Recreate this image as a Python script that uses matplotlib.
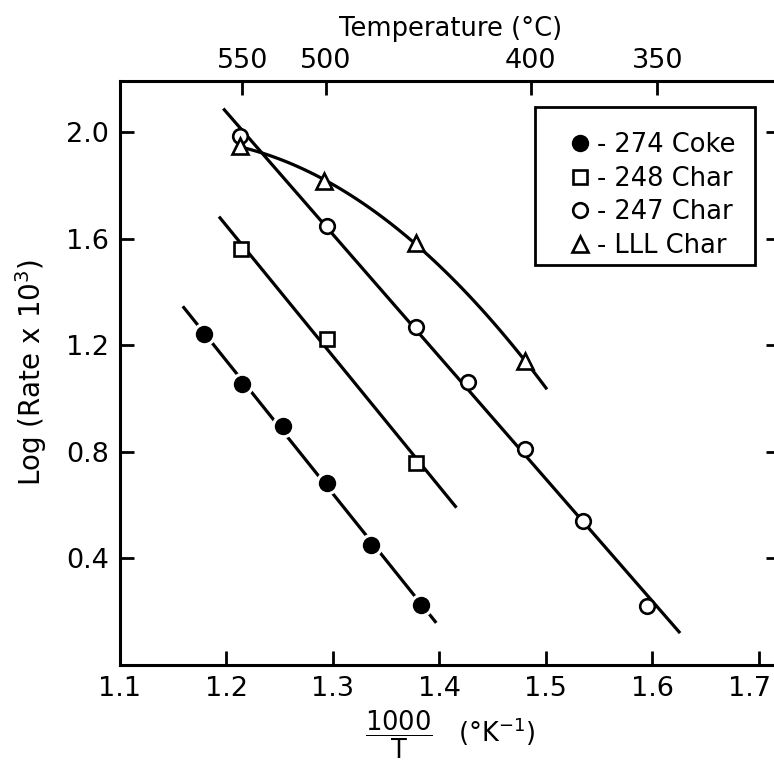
import numpy as np
import matplotlib
matplotlib.use("Agg")
import matplotlib.pyplot as plt
import matplotlib.transforms as mtransforms
from matplotlib.lines import Line2D
from matplotlib.patches import Rectangle

plt.rcParams["font.family"] = ["DejaVu Sans"]
plt.rcParams["mathtext.fontset"] = "dejavusans"

# Reciprocal temperature (1000/T, K^-1) against log rate for each sample
coke_x = [1.179, 1.215, 1.253, 1.294, 1.336, 1.383]
coke_y = [1.243, 1.055, 0.896, 0.685, 0.451, 0.226]

char248_x = [1.214, 1.294, 1.378]
char248_y = [1.563, 1.224, 0.760]

char247_x = [1.213, 1.294, 1.378, 1.427, 1.480, 1.535, 1.595]
char247_y = [1.986, 1.650, 1.268, 1.064, 0.812, 0.541, 0.222]

lll_x = [1.213, 1.2915, 1.378, 1.480]
lll_y = [1.948, 1.817, 1.585, 1.143]

# x-extent of each hand-fitted line
coke_span = [1.159, 1.397]
char248_span = [1.193, 1.416]
char247_span = [1.197, 1.626]
lll_span = [1.213, 1.501]

x_ticks = [1.1, 1.2, 1.3, 1.4, 1.5, 1.6, 1.7]
y_ticks = [0.4, 0.8, 1.2, 1.6, 2.0]
temp_ticks = [550, 500, 400, 350]

legend_labels = ["- 274 Coke", "- 248 Char", "- 247 Char", "- LLL Char"]


def to_celsius(x):
    x = np.asarray(x, dtype=float)
    with np.errstate(divide="ignore"):
        return 1000.0 / x - 273.15


def to_recip(t):
    t = np.asarray(t, dtype=float)
    with np.errstate(divide="ignore"):
        return 1000.0 / (t + 273.15)


def fit_line(xs, ys, span, deg):
    coef = np.polyfit(xs, ys, deg)
    xx = np.linspace(span[0], span[1], 100)
    return xx, np.polyval(coef, xx)


fig = plt.figure(figsize=(7.74, 7.67), dpi=100)
ax = fig.add_axes([0.155, 0.133, 0.853, 0.762])

lw = 2.3
for xs, ys, span, deg in [(coke_x, coke_y, coke_span, 1),
                          (char248_x, char248_y, char248_span, 1),
                          (char247_x, char247_y, char247_span, 1),
                          (lll_x, lll_y, lll_span, 2)]:
    xx, yy = fit_line(xs, ys, span, deg)
    ax.plot(xx, yy, color="black", lw=lw, solid_capstyle="butt", zorder=2)

# filled dots sit in a small white gap on their line
ax.plot(coke_x, coke_y, "o", ms=16, color="white", zorder=3)
ax.plot(coke_x, coke_y, "o", ms=11.5, color="black", zorder=4)

open_style = dict(linestyle="none", mfc="white", mec="black", mew=1.9, zorder=4)
ax.plot(char248_x, char248_y, marker="s", ms=10.5, **open_style)
ax.plot(char247_x, char247_y, marker="o", ms=10.5, **open_style)
ax.plot(lll_x, lll_y, marker="^", ms=12, **open_style)

ax.set_xlim(1.1, 1.72)
ax.set_ylim(0, 2.195)
ax.set_xticks(x_ticks)
ax.set_xticklabels([f"{v:.1f}" for v in x_ticks])
ax.set_yticks(y_ticks)
ax.set_yticklabels([f"{v:.1f}" for v in y_ticks])

for s in ax.spines.values():
    s.set_linewidth(2.2)
ax.tick_params(axis="both", direction="in", length=10, width=2, labelsize=19.5,
               pad=8, right=True)

# keep the last bottom label inside the canvas
last = ax.get_xticklabels()[-1]
last.set_transform(last.get_transform()
                   + mtransforms.ScaledTranslation(-9 / 100, 0, fig.dpi_scale_trans))

sec = ax.secondary_xaxis("top", functions=(to_celsius, to_recip))
sec.set_xticks(temp_ticks)
sec.set_xticklabels([str(t) for t in temp_ticks])
sec.tick_params(direction="in", length=10, width=2, labelsize=19.5, pad=5)
sec.set_xlabel("Temperature (°C)", fontsize=18.5, labelpad=8)

ax.set_xlabel(r"$\mathregular{\dfrac{1000}{T}}$   (°K$^{-1}$)", fontsize=18.5, labelpad=5)
ax.set_ylabel(r"Log (Rate x 10$^3$)", fontsize=20, labelpad=12)

# legend entries without their own frame; box drawn separately
handles = [
    Line2D([], [], marker="o", ms=11.5, color="black", linestyle="none"),
    Line2D([], [], marker="s", ms=10.5, mfc="white", mec="black", mew=1.9, linestyle="none"),
    Line2D([], [], marker="o", ms=10.5, mfc="white", mec="black", mew=1.9, linestyle="none"),
    Line2D([], [], marker="^", ms=12, mfc="white", mec="black", mew=1.9, linestyle="none"),
]
ax.legend(handles, legend_labels, loc="upper left", bbox_to_anchor=(0.682, 0.912),
          borderaxespad=0, borderpad=0, fontsize=18.5, handlelength=0.75,
          handletextpad=0.3, labelspacing=0.3, frameon=False)
ax.add_patch(Rectangle((0.6286, 0.6843), 0.3332, 0.2704, transform=ax.transAxes,
                       fill=False, edgecolor="black", lw=2, zorder=5))

fig.savefig("out.png", dpi=100)
